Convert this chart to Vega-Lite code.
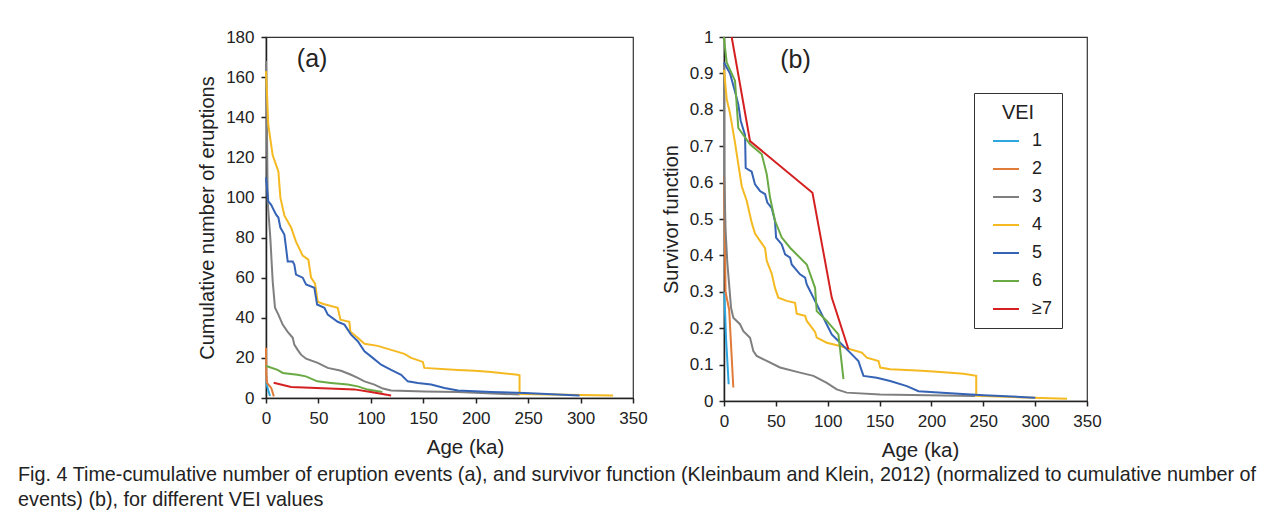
{
  "$schema": "https://vega.github.io/schema/vega-lite/v6.json",
  "autosize": {"type": "pad"},
  "padding": {"top": 27, "left": 18, "right": 5, "bottom": 5},
  "background": "white",
  "datasets": {
    "cum": [
      {"vei": "1", "age": 0.3, "n": 8}, {"vei": "1", "age": 1, "n": 6}, {"vei": "1", "age": 3.8, "n": 1},
      {"vei": "2", "age": 0, "n": 25}, {"vei": "2", "age": 0.3, "n": 12}, {"vei": "2", "age": 1, "n": 7.5}, {"vei": "2", "age": 5, "n": 5}, {"vei": "2", "age": 7.5, "n": 0.8},
      {"vei": "3", "age": 0, "n": 168}, {"vei": "3", "age": 1, "n": 130}, {"vei": "3", "age": 1.6, "n": 98}, {"vei": "3", "age": 4.1, "n": 80}, {"vei": "3", "age": 6.4, "n": 58}, {"vei": "3", "age": 8.6, "n": 45}, {"vei": "3", "age": 11.8, "n": 41.6}, {"vei": "3", "age": 15.9, "n": 36.6}, {"vei": "3", "age": 20.7, "n": 33}, {"vei": "3", "age": 25.5, "n": 30}, {"vei": "3", "age": 27, "n": 26.6}, {"vei": "3", "age": 30.2, "n": 24}, {"vei": "3", "age": 33.4, "n": 21.6}, {"vei": "3", "age": 38.2, "n": 19.6}, {"vei": "3", "age": 49.3, "n": 17.5}, {"vei": "3", "age": 58.9, "n": 15}, {"vei": "3", "age": 71.6, "n": 13.6}, {"vei": "3", "age": 81.1, "n": 11.6}, {"vei": "3", "age": 87.5, "n": 10}, {"vei": "3", "age": 93.9, "n": 8.3}, {"vei": "3", "age": 103.4, "n": 6.7}, {"vei": "3", "age": 111.4, "n": 4.7}, {"vei": "3", "age": 119.3, "n": 3.7}, {"vei": "3", "age": 151, "n": 3.3}, {"vei": "3", "age": 183, "n": 3}, {"vei": "3", "age": 242, "n": 1.7},
      {"vei": "4", "age": 0, "n": 163}, {"vei": "4", "age": 2.2, "n": 136}, {"vei": "4", "age": 6.4, "n": 121}, {"vei": "4", "age": 11.8, "n": 113}, {"vei": "4", "age": 13.7, "n": 100}, {"vei": "4", "age": 17.5, "n": 91}, {"vei": "4", "age": 23.9, "n": 85}, {"vei": "4", "age": 28.6, "n": 78}, {"vei": "4", "age": 35, "n": 71}, {"vei": "4", "age": 40.4, "n": 69}, {"vei": "4", "age": 43, "n": 60}, {"vei": "4", "age": 46.8, "n": 57}, {"vei": "4", "age": 49.3, "n": 48}, {"vei": "4", "age": 54, "n": 47}, {"vei": "4", "age": 68.4, "n": 45}, {"vei": "4", "age": 71, "n": 39}, {"vei": "4", "age": 79.5, "n": 38}, {"vei": "4", "age": 80.5, "n": 33}, {"vei": "4", "age": 87.5, "n": 30}, {"vei": "4", "age": 93.9, "n": 27}, {"vei": "4", "age": 106.6, "n": 26}, {"vei": "4", "age": 119.3, "n": 24}, {"vei": "4", "age": 132, "n": 22}, {"vei": "4", "age": 138.4, "n": 20}, {"vei": "4", "age": 149.6, "n": 18}, {"vei": "4", "age": 151, "n": 15}, {"vei": "4", "age": 183, "n": 14}, {"vei": "4", "age": 199, "n": 13.6}, {"vei": "4", "age": 214.8, "n": 13}, {"vei": "4", "age": 240, "n": 11.6}, {"vei": "4", "age": 241.8, "n": 11.3}, {"vei": "4", "age": 241.8, "n": 2}, {"vei": "4", "age": 331, "n": 1.3},
      {"vei": "5", "age": 0, "n": 110}, {"vei": "5", "age": 2.2, "n": 98}, {"vei": "5", "age": 4.8, "n": 96.5}, {"vei": "5", "age": 9.5, "n": 91.5}, {"vei": "5", "age": 11.8, "n": 90}, {"vei": "5", "age": 13.7, "n": 85}, {"vei": "5", "age": 17.5, "n": 81.5}, {"vei": "5", "age": 19.1, "n": 75}, {"vei": "5", "age": 20.7, "n": 68}, {"vei": "5", "age": 25.5, "n": 68}, {"vei": "5", "age": 27, "n": 66.5}, {"vei": "5", "age": 28.6, "n": 61.5}, {"vei": "5", "age": 35, "n": 60}, {"vei": "5", "age": 38.2, "n": 56.6}, {"vei": "5", "age": 46.1, "n": 55}, {"vei": "5", "age": 48.7, "n": 46.6}, {"vei": "5", "age": 55.7, "n": 45}, {"vei": "5", "age": 58.9, "n": 41.6}, {"vei": "5", "age": 68.4, "n": 38}, {"vei": "5", "age": 74.8, "n": 36.6}, {"vei": "5", "age": 81.1, "n": 31.6}, {"vei": "5", "age": 87.5, "n": 28.3}, {"vei": "5", "age": 93.9, "n": 23.3}, {"vei": "5", "age": 101.8, "n": 20}, {"vei": "5", "age": 109.8, "n": 16.6}, {"vei": "5", "age": 119.3, "n": 14}, {"vei": "5", "age": 128.9, "n": 11.6}, {"vei": "5", "age": 135.2, "n": 8.3}, {"vei": "5", "age": 144.8, "n": 7.5}, {"vei": "5", "age": 157.5, "n": 6.7}, {"vei": "5", "age": 170.2, "n": 5}, {"vei": "5", "age": 183, "n": 3.7}, {"vei": "5", "age": 214.8, "n": 3}, {"vei": "5", "age": 246.6, "n": 2.5}, {"vei": "5", "age": 299, "n": 1.3},
      {"vei": "6", "age": 0, "n": 16}, {"vei": "6", "age": 1, "n": 15.8}, {"vei": "6", "age": 11, "n": 14}, {"vei": "6", "age": 16, "n": 12.5}, {"vei": "6", "age": 30, "n": 11.6}, {"vei": "6", "age": 38, "n": 10.8}, {"vei": "6", "age": 49, "n": 8.3}, {"vei": "6", "age": 62, "n": 7.5}, {"vei": "6", "age": 78, "n": 6.7}, {"vei": "6", "age": 87.5, "n": 5.8}, {"vei": "6", "age": 97, "n": 4.2}, {"vei": "6", "age": 111, "n": 3},
      {"vei": "≥7", "age": 7.3, "n": 7.6}, {"vei": "≥7", "age": 23.9, "n": 5.5}, {"vei": "≥7", "age": 84.3, "n": 4.3}, {"vei": "≥7", "age": 100, "n": 3}, {"vei": "≥7", "age": 119.3, "n": 1.3}
    ],
    "surv": [
      {"vei": "1", "age": 0.3, "s": 0.3}, {"vei": "1", "age": 2, "s": 0.17}, {"vei": "1", "age": 4.5, "s": 0.046},
      {"vei": "2", "age": 0, "s": 0.62}, {"vei": "2", "age": 1.5, "s": 0.3}, {"vei": "2", "age": 5, "s": 0.25}, {"vei": "2", "age": 9, "s": 0.037},
      {"vei": "3", "age": 0, "s": 0.93}, {"vei": "3", "age": 0.3, "s": 0.62}, {"vei": "3", "age": 1.5, "s": 0.47}, {"vei": "3", "age": 3.2, "s": 0.38}, {"vei": "3", "age": 6.8, "s": 0.256}, {"vei": "3", "age": 9, "s": 0.229}, {"vei": "3", "age": 15.4, "s": 0.211}, {"vei": "3", "age": 18.7, "s": 0.192}, {"vei": "3", "age": 25.1, "s": 0.174}, {"vei": "3", "age": 28.3, "s": 0.137}, {"vei": "3", "age": 31.5, "s": 0.124}, {"vei": "3", "age": 41.2, "s": 0.11}, {"vei": "3", "age": 54, "s": 0.092}, {"vei": "3", "age": 73.3, "s": 0.078}, {"vei": "3", "age": 86.2, "s": 0.069}, {"vei": "3", "age": 99.1, "s": 0.05}, {"vei": "3", "age": 108.7, "s": 0.032}, {"vei": "3", "age": 118.3, "s": 0.023}, {"vei": "3", "age": 150.5, "s": 0.018}, {"vei": "3", "age": 242.2, "s": 0.014},
      {"vei": "4", "age": 0, "s": 0.91}, {"vei": "4", "age": 2.6, "s": 0.83}, {"vei": "4", "age": 5.8, "s": 0.79}, {"vei": "4", "age": 10.6, "s": 0.71}, {"vei": "4", "age": 13.8, "s": 0.65}, {"vei": "4", "age": 17.1, "s": 0.59}, {"vei": "4", "age": 21.9, "s": 0.55}, {"vei": "4", "age": 26.7, "s": 0.49}, {"vei": "4", "age": 29.9, "s": 0.46}, {"vei": "4", "age": 34.7, "s": 0.44}, {"vei": "4", "age": 39.6, "s": 0.42}, {"vei": "4", "age": 41.2, "s": 0.385}, {"vei": "4", "age": 46, "s": 0.35}, {"vei": "4", "age": 49.2, "s": 0.31}, {"vei": "4", "age": 52.4, "s": 0.284}, {"vei": "4", "age": 60.5, "s": 0.275}, {"vei": "4", "age": 68.5, "s": 0.27}, {"vei": "4", "age": 70.1, "s": 0.24}, {"vei": "4", "age": 78.2, "s": 0.234}, {"vei": "4", "age": 79.8, "s": 0.22}, {"vei": "4", "age": 87.8, "s": 0.19}, {"vei": "4", "age": 89.4, "s": 0.174}, {"vei": "4", "age": 99.1, "s": 0.16}, {"vei": "4", "age": 112, "s": 0.151}, {"vei": "4", "age": 121.6, "s": 0.142}, {"vei": "4", "age": 132.9, "s": 0.133}, {"vei": "4", "age": 137.7, "s": 0.119}, {"vei": "4", "age": 149, "s": 0.11}, {"vei": "4", "age": 150.6, "s": 0.092}, {"vei": "4", "age": 160.2, "s": 0.087}, {"vei": "4", "age": 186, "s": 0.084}, {"vei": "4", "age": 202, "s": 0.081}, {"vei": "4", "age": 231, "s": 0.075}, {"vei": "4", "age": 243.2, "s": 0.069}, {"vei": "4", "age": 243.2, "s": 0.014}, {"vei": "4", "age": 330.7, "s": 0.006},
      {"vei": "5", "age": 0, "s": 0.93}, {"vei": "5", "age": 5.8, "s": 0.9}, {"vei": "5", "age": 10.6, "s": 0.85}, {"vei": "5", "age": 13.8, "s": 0.815}, {"vei": "5", "age": 16.1, "s": 0.77}, {"vei": "5", "age": 20.3, "s": 0.73}, {"vei": "5", "age": 20.9, "s": 0.64}, {"vei": "5", "age": 26.7, "s": 0.63}, {"vei": "5", "age": 29.9, "s": 0.595}, {"vei": "5", "age": 34.7, "s": 0.577}, {"vei": "5", "age": 39.6, "s": 0.568}, {"vei": "5", "age": 41.8, "s": 0.545}, {"vei": "5", "age": 46, "s": 0.53}, {"vei": "5", "age": 49.2, "s": 0.494}, {"vei": "5", "age": 50.2, "s": 0.449}, {"vei": "5", "age": 55.7, "s": 0.43}, {"vei": "5", "age": 58.9, "s": 0.403}, {"vei": "5", "age": 63.7, "s": 0.394}, {"vei": "5", "age": 65.3, "s": 0.375}, {"vei": "5", "age": 73.3, "s": 0.348}, {"vei": "5", "age": 78.2, "s": 0.339}, {"vei": "5", "age": 79.8, "s": 0.32}, {"vei": "5", "age": 83, "s": 0.302}, {"vei": "5", "age": 86.2, "s": 0.284}, {"vei": "5", "age": 89.4, "s": 0.266}, {"vei": "5", "age": 94.3, "s": 0.238}, {"vei": "5", "age": 99.1, "s": 0.21}, {"vei": "5", "age": 103.9, "s": 0.183}, {"vei": "5", "age": 110.3, "s": 0.165}, {"vei": "5", "age": 121.6, "s": 0.133}, {"vei": "5", "age": 129.6, "s": 0.11}, {"vei": "5", "age": 132.9, "s": 0.082}, {"vei": "5", "age": 134.5, "s": 0.069}, {"vei": "5", "age": 147.3, "s": 0.064}, {"vei": "5", "age": 160.2, "s": 0.055}, {"vei": "5", "age": 176.3, "s": 0.041}, {"vei": "5", "age": 187.5, "s": 0.027}, {"vei": "5", "age": 218.1, "s": 0.021}, {"vei": "5", "age": 250.3, "s": 0.016}, {"vei": "5", "age": 300.1, "s": 0.009},
      {"vei": "6", "age": 0, "s": 1.0}, {"vei": "6", "age": 1, "s": 0.97}, {"vei": "6", "age": 2.6, "s": 0.93}, {"vei": "6", "age": 10.6, "s": 0.88}, {"vei": "6", "age": 13.8, "s": 0.75}, {"vei": "6", "age": 25.1, "s": 0.705}, {"vei": "6", "age": 36.4, "s": 0.678}, {"vei": "6", "age": 41.2, "s": 0.623}, {"vei": "6", "age": 44.4, "s": 0.559}, {"vei": "6", "age": 49.2, "s": 0.495}, {"vei": "6", "age": 55.7, "s": 0.449}, {"vei": "6", "age": 63.7, "s": 0.421}, {"vei": "6", "age": 79.8, "s": 0.375}, {"vei": "6", "age": 87.8, "s": 0.311}, {"vei": "6", "age": 89.4, "s": 0.247}, {"vei": "6", "age": 99.1, "s": 0.22}, {"vei": "6", "age": 110.3, "s": 0.183}, {"vei": "6", "age": 115.2, "s": 0.06},
      {"vei": "≥7", "age": 7.4, "s": 1.0}, {"vei": "≥7", "age": 25.1, "s": 0.714}, {"vei": "≥7", "age": 85.3, "s": 0.572}, {"vei": "≥7", "age": 103.9, "s": 0.284}, {"vei": "≥7", "age": 120, "s": 0.142}
    ],
    "labels_a": [{"age": 44, "n": 169, "label": "(a)"}],
    "labels_b": [{"age": 69, "s": 0.938, "label": "(b)"}]
  },
  "config": {
    "font": "Liberation Sans",
    "view": {"stroke": "#333", "strokeWidth": 1.2},
    "axis": {
      "grid": false,
      "labelFlush": false,
      "labelOverlap": false,
      "domainColor": "#222",
      "domainWidth": 1.5,
      "tickColor": "#222",
      "tickWidth": 1.5,
      "tickSize": 5,
      "labelColor": "#222",
      "titleColor": "#222",
      "labelFont": "Liberation Sans",
      "titleFont": "Liberation Sans",
      "labelFontSize": 17,
      "titleFontSize": 20,
      "titleFontWeight": "normal"
    },
    "line": {"strokeWidth": 2}
  },
  "title": {
    "text": [
      "Fig. 4  Time-cumulative number of eruption events (a), and survivor function (Kleinbaum and Klein, 2012) (normalized to cumulative number of",
      "events) (b), for different VEI values"
    ],
    "orient": "bottom",
    "anchor": "start",
    "font": "Liberation Sans",
    "fontSize": 19.8,
    "fontWeight": "normal",
    "color": "#222",
    "lineHeight": 25,
    "dx": -179,
    "offset": 4
  },
  "spacing": 12,
  "resolve": {"legend": {"color": "independent"}},
  "hconcat": [
    {
      "width": 367,
      "height": 361,
      "encoding": {
        "x": {"field": "age", "type": "quantitative", "scale": {"domain": [0, 350]}, "axis": {"values": [0, 50, 100, 150, 200, 250, 300, 350], "title": "Age (ka)", "labelPadding": 7, "titlePadding": 11, "titleX": 199, "titleFontSize": 20.5}},
        "y": {"field": "n", "type": "quantitative", "scale": {"domain": [0, 180]}, "axis": {"values": [0, 20, 40, 60, 80, 100, 120, 140, 160, 180], "title": "Cumulative number of eruptions", "labelPadding": 7, "titlePadding": 8}}
      },
      "layer": [
        {
          "data": {"name": "cum"},
          "mark": {"type": "line", "strokeWidth": 2},
          "encoding": {
            "color": {"field": "vei", "type": "nominal", "scale": {"domain": ["1", "2", "3", "4", "5", "6", "≥7"], "range": ["#2EA6DF", "#E07B39", "#7F7F7F", "#F5B922", "#3563B5", "#6AAA45", "#D42020"]}, "legend": null},
            "order": {"value": null}
          }
        },
        {
          "data": {"name": "labels_a"},
          "mark": {"type": "text", "fontSize": 25, "align": "center", "baseline": "middle", "color": "#222"},
          "encoding": {
            "text": {"field": "label"}
          }
        }
      ]
    },
    {
      "width": 363,
      "height": 364,
      "encoding": {
        "x": {"field": "age", "type": "quantitative", "scale": {"domain": [0, 350]}, "axis": {"values": [0, 50, 100, 150, 200, 250, 300, 350], "title": "Age (ka)", "labelPadding": 7, "titlePadding": 11, "titleX": 196, "titleFontSize": 20.5}},
        "y": {"field": "s", "type": "quantitative", "scale": {"domain": [0, 1]}, "axis": {"values": [0, 0.1, 0.2, 0.3, 0.4, 0.5, 0.6, 0.7, 0.8, 0.9, 1], "format": "~g", "title": "Survivor function", "labelPadding": 6, "titlePadding": 8}}
      },
      "layer": [
        {
          "data": {"name": "surv"},
          "mark": {"type": "line", "strokeWidth": 2},
          "encoding": {
            "color": {
              "field": "vei", "type": "nominal",
              "scale": {"domain": ["1", "2", "3", "4", "5", "6", "≥7"], "range": ["#2EA6DF", "#E07B39", "#7F7F7F", "#F5B922", "#3563B5", "#6AAA45", "#D42020"]},
              "legend": {
                "title": "VEI",
                "orient": "none",
                "legendX": 250,
                "legendY": 56,
                "strokeColor": "#333",
                "fillColor": "white",
                "padding": 10,
                "symbolOffset": 8,
                "titleFontSize": 20,
                "titleFontWeight": "normal",
                "titleColor": "#222",
                "titleAnchor": "middle",
                "titlePadding": 4,
                "labelFontSize": 18,
                "labelColor": "#222",
                "labelOffset": 12,
                "symbolType": "stroke",
                "symbolSize": 676,
                "symbolStrokeWidth": 2,
                "rowPadding": 5
              }
            },
            "order": {"value": null}
          }
        },
        {
          "data": {"name": "labels_b"},
          "mark": {"type": "text", "fontSize": 25, "align": "center", "baseline": "middle", "color": "#222"},
          "encoding": {
            "text": {"field": "label"}
          }
        }
      ]
    }
  ]
}
